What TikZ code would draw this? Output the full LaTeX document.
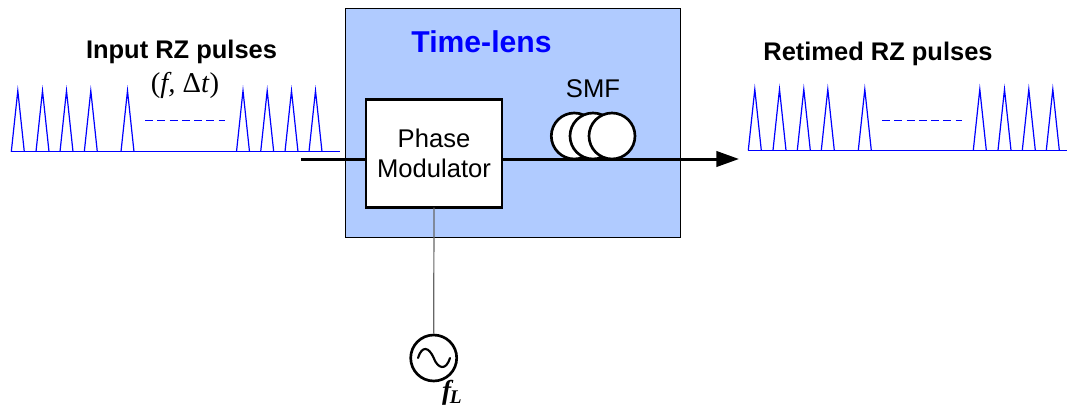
\documentclass[tikz,border=0pt]{standalone}
\usepackage{fontspec}
\setmainfont{Liberation Sans}
\newfontfamily\serifgreek{Liberation Serif}
\usepackage{xcolor}
\usetikzlibrary{arrows.meta}
\definecolor{LensBlue}{RGB}{176,203,255}
\tikzset{
Pulse/.style={
 draw=blue, 
 line width=0.9pt
 },
Trait/.style={
 draw=blue, 
 line width=0.9pt, 
 dash pattern=on 6pt off 3.2pt
 },
Fibre/.style={
 draw=black, 
 fill=white, 
 circle, 
 line width=2pt, 
 minimum size=34.5pt, 
 inner sep=0pt
 },
Signal/.style={
 draw=black, 
 line width=2.25pt
 },
Titre/.style={
 font=\fontsize{19.1}{22}\selectfont\bfseries, 
 inner sep=0pt
 },
Texte/.style={
 font=\fontsize{19.2}{23}\selectfont, 
 inner sep=0pt, 
 align=center
 }
}
\begin{document}
\begin{tikzpicture}[x=0.75pt,y=-0.75pt]
\useasboundingbox (0,0) rectangle (1067,407);
% lens block
\node[draw=black, fill=LensBlue, line width=0.75pt, minimum width=251pt, minimum height=172pt, inner sep=0pt, outer sep=0pt] (Lens) at (513,123) {};
\node[font=\fontsize{22.6}{26}\selectfont\bfseries, text=blue, inner sep=0pt] (LensName) at (481.5,42) {Time-lens};
% pulses
\foreach \x in {11.3,36,60,84.3,121,236.5,260.7,285,309} {
 \draw[Pulse] (\x,151.7) -- (\x+6.5,90.7) -- (\x+13,151.7);
}
\draw[Pulse] (11,151.7) -- (340,151.7);
\draw[Trait] (145,120.7) -- (225,120.7);
\foreach \x in {748.3,773,797.3,821.3,858.3,973.3,998,1022.3,1046.3} {
 \draw[Pulse] (\x,150.3) -- (\x+6.5,89.3) -- (\x+13,150.3);
}
\draw[Pulse] (748,150.3) -- (1067,150.3);
\draw[Trait] (882,120.4) -- (962,120.4);
% labels
\node[Titre] (InName) at (181.5,52) {Input RZ pulses};
\node[font=\fontsize{21.5}{24}\selectfont\serifgreek, inner sep=0pt] (InRate) at (185,85) {(\textit{f,} Δ\textit{t})};
\node[Titre] (OutName) at (878,54) {Retimed RZ pulses};
\node[Texte] (SMFName) at (593,89) {SMF};
% fibre and modulator
\node[Fibre] (F1) at (574.3,136) {};
\node[Fibre] (F2) at (593,136) {};
\node[Fibre] (F3) at (612,136) {};
\node[draw=black, fill=white, line width=2pt, minimum width=102pt, minimum height=81pt, inner sep=0pt, outer sep=0pt, Texte] (PM) at (434,153.5) {Phase\\Modulator};
\coordinate (In) at (301,159);
\coordinate (Out) at (739,159);
\draw[Signal] (In) -- (In -| PM.west);
\draw[Signal, -{Triangle[length=17pt,width=11.5pt]}] (Out -| PM.east) -- (Out);
% oscillator
\node[Fibre, fill=none] (Osc) at (433.7,358) {};
\draw[draw=black!60, line width=0.9pt] (PM.south) -- (Osc.north);
\draw[line width=1.6pt, line cap=round] (418,358) .. controls (422,345) and (429,347) .. (433.7,358) .. controls (438,369) and (446,371) .. (450,358);
\node[font=\fontsize{20.5}{24}\selectfont\serifgreek\bfseries\itshape, inner sep=0pt] (OscName) at (452,393) {f\kern-1pt\raisebox{-3pt}{\fontsize{14.5}{15}\selectfont L}};
\end{tikzpicture}
\end{document}
